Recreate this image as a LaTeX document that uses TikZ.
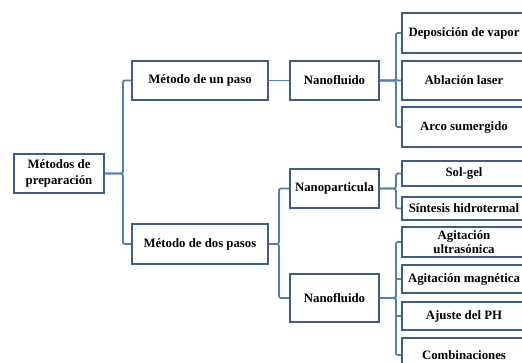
\documentclass[tikz,border=0pt]{standalone}
\usepackage{fontspec}
\setmainfont{Liberation Serif}
\usetikzlibrary{positioning}
\definecolor{boxblue}{RGB}{62,94,138}
\definecolor{lineblue}{RGB}{82,126,186}
\begin{document}
\begin{tikzpicture}[x=1pt, y=-1pt, font=\fontsize{12.8}{15.5}\selectfont\bfseries,
  box/.style={draw=boxblue, line width=1.8pt, fill=white, align=center, inner sep=1pt},
  leaf/.style={box, minimum width=124pt},
  link/.style={draw=lineblue, line width=1.8pt, rounded corners=2pt}]
\clip (0,0) rectangle (522,363);
\fill[white] (0,0) rectangle (522,363);
\node[box, minimum width=90pt, minimum height=39pt] (root) at (59,173.5) {Métodos de\\preparación};
\node[box, minimum width=136pt, minimum height=39pt] (uno) at (200,80.5) {Método de un paso};
\node[box, minimum width=136pt, minimum height=40pt] (dos) at (200,244) {Método de dos pasos};
\node[box, minimum width=89pt, minimum height=39pt] (nfa) at (334.5,80.5) {Nanofluido};
\node[box, minimum width=89pt, minimum height=39pt] (npart) at (334.5,188.5) {Nanoparticula};
\node[box, minimum width=89pt, minimum height=48pt] (nfb) at (334.5,298) {Nanofluido};
\node[leaf, minimum height=40pt] (dep) at (464,33) {Deposición de vapor};
\node[leaf, minimum height=39pt] (abl) at (464,80.5) {Ablación laser};
\node[leaf, minimum height=40pt] (arco) at (464,127) {Arco sumergido};
\node[leaf, minimum height=25pt] (sol) at (464,173.5) {Sol-gel};
\node[leaf, minimum height=23pt] (sint) at (464,208.5) {Síntesis hidrotermal};
\node[leaf, minimum height=30pt, font=\fontsize{12.8}{14}\selectfont\bfseries] (agu) at (464,242) {Agitación\\ultrasónica};
\node[leaf, minimum height=28pt] (agm) at (464,279) {Agitación magnética};
\node[leaf, minimum height=28pt] (aju) at (464,316) {Ajuste del PH};
\node[leaf, minimum height=34pt] (comb) at (464,355) {Combinaciones};
\draw[link] (root.east) -- ++(18,0) |- (uno.west);
\draw[link] (root.east) -- ++(18,0) |- (dos.west);
\draw[link] (uno) -- (nfa);
\draw[link] (dos.east) -- ++(10,0) |- (npart.west);
\draw[link] (dos.east) -- ++(10,0) |- (nfb.west);
\foreach \leafname in {dep,abl,arco}
  \draw[link] (nfa.east) -- ++(16,0) |- (\leafname.west);
\foreach \leafname in {sol,sint}
  \draw[link] (npart.east) -- ++(16,0) |- (\leafname.west);
\foreach \leafname in {agu,agm,aju,comb}
  \draw[link] (nfb.east) -- ++(16,0) |- (\leafname.west);
\end{tikzpicture}
\end{document}
